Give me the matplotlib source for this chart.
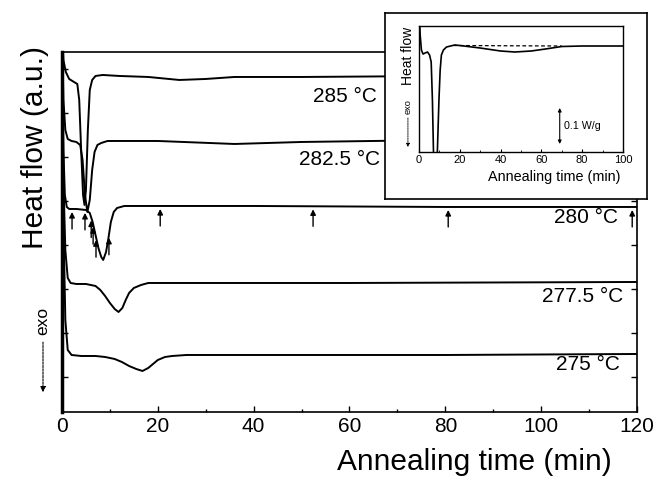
import numpy as np
import matplotlib.pyplot as plt
from matplotlib.ticker import MultipleLocator

plt.rcParams["font.family"] = ["Liberation Sans", "DejaVu Sans"]
plt.rcParams["mathtext.default"] = "regular"

# isothermal DSC traces, heat flow in a.u. (curves shifted vertically)
t_285 = [0, 0.3, 0.8, 1.5, 2.5, 3.2, 3.6, 4.0, 4.4, 4.7, 5.0, 5.4, 5.8, 6.3, 7.0, 8.5, 12, 18, 24.5, 30, 36, 50, 80, 120]
hf_285 = [382, 352, 340, 333, 330, 328, 312, 262, 217, 207, 222, 282, 322, 332, 336, 337, 336, 335, 332, 333, 335, 335, 336, 336]

t_2825 = [0, 0.3, 0.7, 1.2, 2.0, 3.0, 3.8, 4.3, 4.8, 5.3, 5.8, 6.3, 6.8, 7.4, 8.2, 9.5, 12, 20, 36, 50, 80, 120]
hf_2825 = [382, 312, 282, 273, 271, 270, 267, 252, 217, 200, 212, 242, 260, 267, 269, 271, 271, 271, 268, 270, 272, 272]

t_280 = [0, 0.3, 0.6, 1.0, 1.5, 3, 5, 5.8, 6.4, 7.0, 7.6, 8.2, 8.6, 9.2, 9.7, 10.2, 10.8, 11.5, 13, 20, 40, 80, 120]
hf_280 = [382, 262, 217, 205, 203, 203, 202, 199, 190, 177, 164, 155, 152, 160, 174, 190, 200, 204, 206, 206, 206, 205, 205]

t_2775 = [0, 0.3, 0.7, 1.2, 1.8, 3, 5, 7, 8, 9, 10, 11, 11.8, 12.6, 13.3, 14, 15, 16.5, 18, 20, 30, 60, 120]
hf_2775 = [382, 232, 162, 134, 129, 128, 128, 126, 122, 116, 109, 103, 100, 104, 112, 119, 124, 127, 129, 129, 129, 129, 130]

t_275 = [0, 0.3, 0.7, 1.2, 2, 4, 7, 9, 11, 12.5, 14, 15.5, 16.8, 18, 19, 20, 21.5, 23, 26, 40, 80, 120]
hf_275 = [382, 192, 92, 62, 57, 56, 56, 55, 53, 50, 46, 43, 41, 44, 48, 52, 55, 56, 57, 57, 57, 58]

curves = [
    (t_285, hf_285, "285 \u00b0C", 65.8, 315),
    (t_2825, hf_2825, "282.5 \u00b0C", 66.4, 252),
    (t_280, hf_280, "280 \u00b0C", 116.1, 194),
    (t_2775, hf_2775, "277.5 \u00b0C", 117.1, 115),
    (t_275, hf_275, "275 \u00b0C", 116.5, 47),
]

# times marked on the 280 C trace
arrow_t = [2.1, 4.8, 6.1, 6.5, 7.1, 9.8, 20.5, 52.4, 80.6, 119.0]

# inset: 285 C trace on absolute scale
t_in = [0, 0.6, 1.2, 2.0, 3.0, 4.2, 5.2, 6.0, 6.6, 7.2, 7.8, 8.6, 9.2, 9.8, 10.4, 11.0, 12, 13.5,
        17.5, 20, 30, 40, 47, 55, 62, 70, 80, 100]
hf_in = [147, 117, 102, 98, 99, 100, 97, 90, 52, -8, -48, -28, 12, 52, 82, 97, 102, 105,
         107, 106.5, 104, 101, 100, 101, 103, 105.5, 106, 106]
base_t = [17, 70]
base_hf = [106.5, 106]

fig = plt.figure(figsize=(6.65, 4.79), dpi=100)
ax = fig.add_axes([0.0932, 0.1399, 0.8647, 0.7516])

for t, hf, lab, lx, ly in curves:
    ax.plot(t, hf, color="black", lw=1.4)
    ax.text(lx, ly, lab, ha="right", va="center", fontsize=15)

for at in arrow_t:
    tip = np.interp(at, t_280, hf_280) - 3
    ax.annotate("", xy=(at, tip), xytext=(at, tip - 17),
                arrowprops=dict(arrowstyle="-|>", color="black", lw=1.0,
                                mutation_scale=8, shrinkA=0, shrinkB=0))

ax.set_xlim(0, 120)
ax.set_ylim(0, 360)
ax.xaxis.set_major_locator(MultipleLocator(20))
ax.xaxis.set_minor_locator(MultipleLocator(10))
ax.set_yticks(np.arange(35, 360, 44))
ax.set_yticklabels([])
ax.tick_params(which="both", direction="in", top=False, right=True, labelsize=15, width=1.0)
ax.tick_params(which="major", length=4)
ax.tick_params(which="minor", length=2.5)
for s in ax.spines.values():
    s.set_linewidth(1.2)
ax.spines["left"].set_linewidth(2.5)

ax.text(0.717, -0.139, "Annealing time (min)", transform=ax.transAxes,
        ha="center", va="center", fontsize=21.5)
ax.text(-0.047, 0.736, "Heat flow (a.u.)", transform=ax.transAxes,
        ha="center", va="center", rotation=90, fontsize=21.5)
ax.text(-0.033, 0.253, "exo", transform=ax.transAxes,
        ha="center", va="center", rotation=90, fontsize=12.5)
ax.annotate("", xy=(-0.033, 0.055), xytext=(-0.033, 0.194), xycoords="axes fraction",
            arrowprops=dict(arrowstyle="-|>", color="black", lw=0.8, ls=(0, (2, 1)),
                            mutation_scale=8, shrinkA=0, shrinkB=0))

# inset frame
frame = fig.add_axes([0.579, 0.5846, 0.394, 0.388])
frame.set_xticks([])
frame.set_yticks([])
frame.set_facecolor("white")
for s in frame.spines.values():
    s.set_linewidth(1.2)

ins = fig.add_axes([0.630, 0.6827, 0.3068, 0.263])
ins.plot(t_in, hf_in, color="black", lw=1.2)
ins.plot(base_t, base_hf, color="black", lw=0.9, ls=(0, (3, 2)))
ins.set_xlim(0, 100)
ins.set_ylim(0, 126)
ins.xaxis.set_major_locator(MultipleLocator(20))
ins.xaxis.set_minor_locator(MultipleLocator(10))
ins.set_yticks([])
ins.tick_params(which="both", direction="in", labelsize=8, pad=2)
ins.tick_params(which="major", length=2.5)
ins.tick_params(which="minor", length=1.5)
for s in ins.spines.values():
    s.set_linewidth(1.0)

ins.annotate("", xy=(69, 8), xytext=(69, 44),
             arrowprops=dict(arrowstyle="<|-|>", color="black", lw=0.8,
                             mutation_scale=5, shrinkA=0, shrinkB=0))
ins.text(71, 26, "0.1 W/g", ha="left", va="center", fontsize=7.7)

ins.text(0.662, -0.198, "Annealing time (min)", transform=ins.transAxes,
         ha="center", va="center", fontsize=10.4)
ins.text(-0.054, 0.762, "Heat flow", transform=ins.transAxes,
         ha="center", va="center", rotation=90, fontsize=10)
ins.text(-0.054, 0.357, "exo", transform=ins.transAxes,
         ha="center", va="center", rotation=90, fontsize=6.7)
ins.annotate("", xy=(-0.054, 0.04), xytext=(-0.054, 0.27), xycoords="axes fraction",
             arrowprops=dict(arrowstyle="-|>", color="black", lw=0.6, ls=(0, (2, 1)),
                             mutation_scale=5, shrinkA=0, shrinkB=0))

fig.savefig("out.png", dpi=100)
